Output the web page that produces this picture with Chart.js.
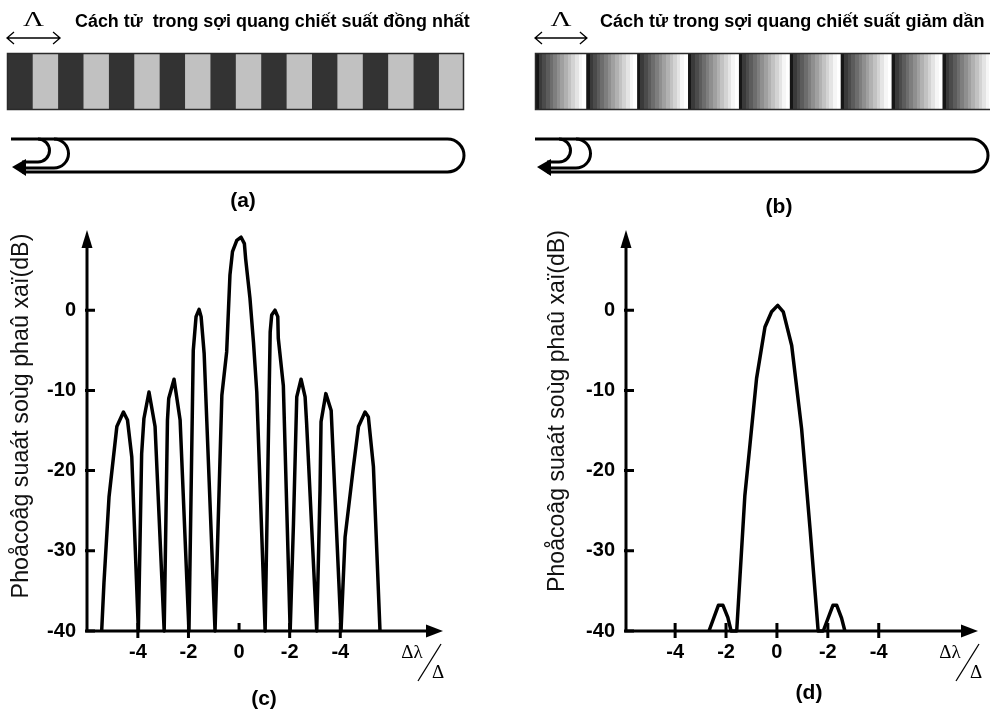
<!DOCTYPE html>
<html>
<head>
<meta charset="utf-8">
<script src="https://cdn.jsdelivr.net/npm/chart.js@4.4.0/dist/chart.umd.min.js"></script>
<style>
  html, body { margin: 0; padding: 0; background: #fff; }
  #wrap { position: relative; width: 990px; height: 711px; overflow: hidden; }
  canvas { position: absolute; }
</style>
</head>
<body>
<div id="wrap">
  <canvas id="topA" width="495" height="220" style="left:0;top:0"></canvas>
  <canvas id="topB" width="495" height="220" style="left:495px;top:0"></canvas>
  <canvas id="plotC" width="495" height="491" style="left:0;top:220px"></canvas>
  <canvas id="plotD" width="495" height="491" style="left:495px;top:220px"></canvas>
</div>
<script>
// (a) uniform grating: stripe edges in half-periods, 1 = dark (high index), 0 = light
const uniformEdges = [0, 1, 2, 3, 4, 5, 6, 7, 8, 9, 10, 11, 12, 13, 14, 15, 16, 17, 18];
const uniformLevels = [1, 0, 1, 0, 1, 0, 1, 0, 1, 0, 1, 0, 1, 0, 1, 0, 1, 0];
// (b) graded grating: period edges (last one runs off the page)
const gradedEdges = [0, 1, 2, 3, 4, 5, 6, 7, 8, 9];

// (c) reflection spectrum, uniform grating (x = Δλ/Δ, y = dB)
const cX = [-5.43, -5.34, -5.14, -4.83, -4.57, -4.41, -4.24, -3.98,
  -3.85, -3.76, -3.56, -3.32, -2.96,
  -2.83, -2.78, -2.57, -2.33, -1.98,
  -1.81, -1.70, -1.58, -1.50, -1.38, -0.95,
  -0.68, -0.49, -0.36, -0.26, -0.09, 0.08, 0.21, 0.26, 0.43, 0.57, 0.70, 1.03,
  1.23, 1.29, 1.42, 1.53, 1.55, 1.75, 2.02,
  2.15, 2.28, 2.45, 2.61, 2.67, 3.07,
  3.20, 3.24, 3.43, 3.64, 4.03,
  4.19, 4.52, 4.72, 4.98, 5.11, 5.31, 5.57];
const cY = [-40, -34.0, -23.3, -14.5, -12.7, -13.7, -18.3, -40,
  -17.9, -13.5, -10.2, -14.5, -40,
  -13.7, -11.0, -8.6, -13.7, -40,
  -5.0, -0.8, 0.1, -0.8, -5.4, -40,
  -10.6, -5.2, 4.4, 7.3, 8.7, 9.1, 8.3, 6.4, 1.5, -4.0, -10.2, -40,
  -2.7, -0.6, 0.0, -0.8, -3.5, -9.4, -40,
  -26.6, -10.8, -8.6, -10.8, -14.1, -40,
  -22.4, -13.9, -10.4, -12.5, -40,
  -28.3, -19.5, -14.5, -12.7, -13.3, -19.5, -40];

// (d) reflection spectrum, graded (apodized) grating
const dX = [-2.67, -2.30, -2.12, -1.93, -1.80, -1.58, -1.26, -1.06, -0.80, -0.47, -0.21, 0.03,
  0.25, 0.58, 0.97, 1.30, 1.62, 1.82, 2.20, 2.35, 2.54, 2.67];
const dY = [-40, -36.8, -36.8, -38.3, -40, -40, -23.1, -16.8, -8.5, -2.1, -0.2, 0.6,
  -0.2, -4.4, -14.8, -27.2, -40, -40, -36.8, -36.8, -38.4, -40];

// axis ticks
const yTickValues = [-40, -30, -20, -10, 0];
const xTickValues = [-4, -2, 0, 2, 4];
const xTickLabels = ['-4', '-2', '0', '-2', '-4'];

const yTitle = 'Phoåcoâg suaát soùg phaû xaï(dB)';
const SANS = '"Liberation Sans", Arial, sans-serif';
const SERIF = '"Liberation Serif", "Times New Roman", serif';

// graded grey steps inside one period of (b)
const gradedShades = ['#161616', '#3a3a3a', '#4b4b4b', '#5c5c5c', '#6d6d6d', '#7e7e7e', '#8f8f8f',
  '#a0a0a0', '#b1b1b1', '#c2c2c2', '#d3d3d3', '#e4e4e4', '#f6f6f6', '#ffffff'];

function fitText(ctx, text, x, y, width, weight, family, base) {
  ctx.font = `${weight} ${base}px ${family}`;
  const w = ctx.measureText(text).width;
  ctx.font = `${weight} ${(base * width / w).toFixed(2)}px ${family}`;
  ctx.fillText(text, x, y);
}

function drawFiber(ctx, f) {
  const top = 139, bot = 172, r = (bot - top) / 2;
  ctx.lineWidth = 3;
  ctx.lineCap = 'butt';
  ctx.beginPath();
  ctx.moveTo(f.start, top);
  ctx.lineTo(f.right - r, top);
  ctx.arc(f.right - r, top + r, r, -Math.PI / 2, Math.PI / 2);
  ctx.lineTo(f.tip + 10, bot);
  ctx.stroke();
  [[f.a1, 11.5], [f.a2, 14.5]].forEach(([cx, rr]) => {
    ctx.beginPath();
    ctx.arc(cx, top + rr, rr, -Math.PI / 2, Math.PI / 2);
    ctx.lineTo(f.tip + 10, top + 2 * rr);
    ctx.stroke();
  });
  ctx.beginPath();
  ctx.moveTo(f.tip, 167);
  ctx.lineTo(f.tip + 14, 159);
  ctx.lineTo(f.tip + 14, 176);
  ctx.closePath();
  ctx.fill();
}

const gratingDecor = {
  id: 'gratingDecor',
  afterDraw(chart, args, o) {
    const { ctx, chartArea: a, scales: { x } } = chart;
    ctx.save();
    ctx.fillStyle = '#000';
    // border of the grating
    ctx.lineWidth = 1.5;
    ctx.strokeStyle = '#2a2a2a';
    ctx.strokeRect(a.left + 0.5, a.top + 0.5, a.right - a.left + (o.openRight ? 10 : -1), a.bottom - a.top - 1);
    ctx.strokeStyle = '#000';
    // period arrow with Λ
    const x0 = x.getPixelForValue(0), x1 = x.getPixelForValue(o.arrowEnd), ay = 38;
    ctx.lineWidth = 1.3;
    ctx.beginPath();
    ctx.moveTo(x0, ay); ctx.lineTo(x1, ay);
    ctx.moveTo(x0 + 7, ay - 6); ctx.lineTo(x0, ay); ctx.lineTo(x0 + 7, ay + 6);
    ctx.moveTo(x1 - 7, ay - 6); ctx.lineTo(x1, ay); ctx.lineTo(x1 - 7, ay + 6);
    ctx.stroke();
    ctx.save();
    ctx.translate((x0 + x1) / 2, 26);
    ctx.scale(1.45, 1);
    ctx.font = `20px ${SERIF}`;
    ctx.textAlign = 'center';
    ctx.textBaseline = 'alphabetic';
    ctx.fillText('Λ', 0, 0);
    ctx.restore();
    // title
    ctx.textAlign = 'left';
    ctx.textBaseline = 'alphabetic';
    fitText(ctx, o.title, o.titleX, 27, o.titleW, 'bold', SANS, 16);
    // fiber sketch
    drawFiber(ctx, o.fiber);
    // panel label
    ctx.textAlign = 'center';
    ctx.textBaseline = 'middle';
    ctx.font = `bold 21px ${SANS}`;
    ctx.fillText(o.label, o.labelX, o.labelY);
    ctx.restore();
  }
};

function gratingChart(id, edges, fillFor, pad, xmax, decor) {
  const datasets = edges.slice(0, -1).map((e, i) => ({
    data: [[e, edges[i + 1]]],
    backgroundColor: fillFor(i),
    borderWidth: 0,
    barPercentage: 1,
    categoryPercentage: 1,
    grouped: false
  }));
  return new Chart(document.getElementById(id), {
    type: 'bar',
    data: { labels: [''], datasets },
    options: {
      indexAxis: 'y',
      responsive: false,
      animation: false,
      layout: { padding: pad },
      scales: {
        x: { type: 'linear', min: 0, max: xmax, display: false },
        y: { display: false }
      },
      plugins: { legend: { display: false }, tooltip: { enabled: false }, gratingDecor: decor }
    },
    plugins: [gratingDecor]
  });
}

gratingChart('topA', uniformEdges,
  i => uniformLevels[i] ? '#333333' : '#c1c1c1',
  { left: 7, right: 31, top: 53, bottom: 110 }, 18,
  {
    arrowEnd: 2.09, title: 'Cách tử  trong sợi quang chiết suất đồng nhất', titleX: 75, titleW: 395,
    fiber: { start: 11, tip: 12, a1: 38, a2: 54, right: 464 }, label: '(a)', labelX: 243, labelY: 201
  });

gratingChart('topB', gradedEdges,
  () => (ctx) => {
    const chart = ctx.chart, xs = chart.scales.x;
    if (!chart.chartArea || !xs || !Array.isArray(ctx.raw)) return '#888';
    const p0 = xs.getPixelForValue(ctx.raw[0]), p1 = xs.getPixelForValue(ctx.raw[1]);
    const g = chart.ctx.createLinearGradient(p0, 0, p1, 0);
    const n = gradedShades.length;
    gradedShades.forEach((c, k) => {
      g.addColorStop(k / n, c);
      g.addColorStop((k + 1) / n - 0.0001, c);
    });
    return g;
  },
  { left: 40, right: 0, top: 53, bottom: 110 }, 8.94,
  {
    arrowEnd: 1.02, openRight: true, title: 'Cách tử trong sợi quang chiết suất giảm dần', titleX: 105, titleW: 385,
    fiber: { start: 40, tip: 42, a1: 64, a2: 81, right: 493 }, label: '(b)', labelX: 284, labelY: 207
  });

const axisDecor = {
  id: 'axisDecor',
  afterDatasetsDraw(chart, args, o) {
    const { ctx, chartArea: a, scales: { x, y } } = chart;
    ctx.save();
    ctx.strokeStyle = '#000';
    ctx.fillStyle = '#000';
    ctx.lineWidth = 3;
    ctx.lineCap = 'butt';
    ctx.beginPath();
    ctx.moveTo(a.left, a.top + 14);
    ctx.lineTo(a.left, a.bottom);
    ctx.lineTo(a.right - 14, a.bottom);
    ctx.stroke();
    // arrow heads
    ctx.beginPath();
    ctx.moveTo(a.left, a.top); ctx.lineTo(a.left - 5.5, a.top + 18); ctx.lineTo(a.left + 5.5, a.top + 18);
    ctx.closePath(); ctx.fill();
    ctx.beginPath();
    ctx.moveTo(a.right, a.bottom); ctx.lineTo(a.right - 17, a.bottom - 6.5); ctx.lineTo(a.right - 17, a.bottom + 6.5);
    ctx.closePath(); ctx.fill();
    // tick marks
    ctx.beginPath();
    yTickValues.forEach(v => {
      const py = y.getPixelForValue(v);
      ctx.moveTo(a.left - 2, py); ctx.lineTo(a.left + 8, py);
    });
    xTickValues.forEach(v => {
      const px = x.getPixelForValue(v);
      ctx.moveTo(px, a.bottom - 8); ctx.lineTo(px, a.bottom + (v === 0 && o.zeroUp ? 0 : 7));
    });
    ctx.stroke();
    // y axis title
    ctx.save();
    ctx.translate(o.titleX, o.titleY);
    ctx.rotate(-Math.PI / 2);
    ctx.textAlign = 'center';
    ctx.textBaseline = 'middle';
    ctx.fillStyle = '#111';
    fitText(ctx, yTitle, 0, 0, o.titleW, 'normal', SANS, 22);
    ctx.restore();
    // Δλ/Δ
    ctx.textAlign = 'center';
    ctx.textBaseline = 'middle';
    ctx.font = `19px ${SERIF}`;
    ctx.fillText('Δλ', a.right - 31 + o.dlShift, a.bottom + 22);
    ctx.fillText('Δ', a.right - 5 + o.dlShift, a.bottom + 42);
    ctx.lineWidth = 1.3;
    ctx.beginPath();
    ctx.moveTo(a.right - 25 + o.dlShift, a.bottom + 50);
    ctx.lineTo(a.right - 2 + o.dlShift, a.bottom + 13);
    ctx.stroke();
    // panel label
    ctx.font = `bold 21px ${SANS}`;
    ctx.fillText(o.label, o.labelX, o.labelY);
    ctx.restore();
  }
};

function spectrumChart(id, xs, ys, xmin, xmax, yAxisW, padRight, decor) {
  return new Chart(document.getElementById(id), {
    type: 'scatter',
    data: {
      datasets: [{
        data: xs.map((v, i) => ({ x: v, y: ys[i] })),
        showLine: true,
        borderColor: '#000',
        borderWidth: 3.5,
        pointRadius: 0,
        tension: 0,
        borderJoinStyle: 'round',
        clip: 2
      }]
    },
    options: {
      responsive: false,
      animation: false,
      layout: { padding: { left: 0, top: 10, right: padRight, bottom: 0 } },
      scales: {
        x: {
          type: 'linear', min: xmin, max: xmax,
          afterBuildTicks: s => { s.ticks = xTickValues.map(v => ({ value: v })); },
          afterFit: s => { s.height = 80; s.paddingLeft = 0; s.paddingRight = 0; },
          grid: { display: false, drawTicks: false },
          border: { display: false },
          ticks: {
            padding: 9,
            color: '#000',
            font: { family: SANS, size: 20, weight: 'bold' },
            callback: v => xTickLabels[xTickValues.indexOf(v)]
          }
        },
        y: {
          min: -40, max: 10,
          afterBuildTicks: s => { s.ticks = yTickValues.map(v => ({ value: v })); },
          afterFit: s => { s.width = yAxisW; s.paddingTop = 0; s.paddingBottom = 0; },
          grid: { display: false, drawTicks: false },
          border: { display: false },
          ticks: {
            padding: 11,
            color: '#000',
            font: { family: SANS, size: 20, weight: 'bold' }
          }
        }
      },
      plugins: { legend: { display: false }, tooltip: { enabled: false }, axisDecor: decor }
    },
    plugins: [axisDecor]
  });
}

spectrumChart('plotC', cX, cY, -6.01, 8.06, 87, 52,
  { titleX: 22, titleY: 196, titleW: 365, label: '(c)', labelX: 264, labelY: 479, dlShift: 0, zeroUp: true });
spectrumChart('plotD', dX, dY, -5.93, 7.9, 131, 12,
  { titleX: 63, titleY: 191, titleW: 362, label: '(d)', labelX: 314, labelY: 473, dlShift: 3, zeroUp: false });
</script>
</body>
</html>
